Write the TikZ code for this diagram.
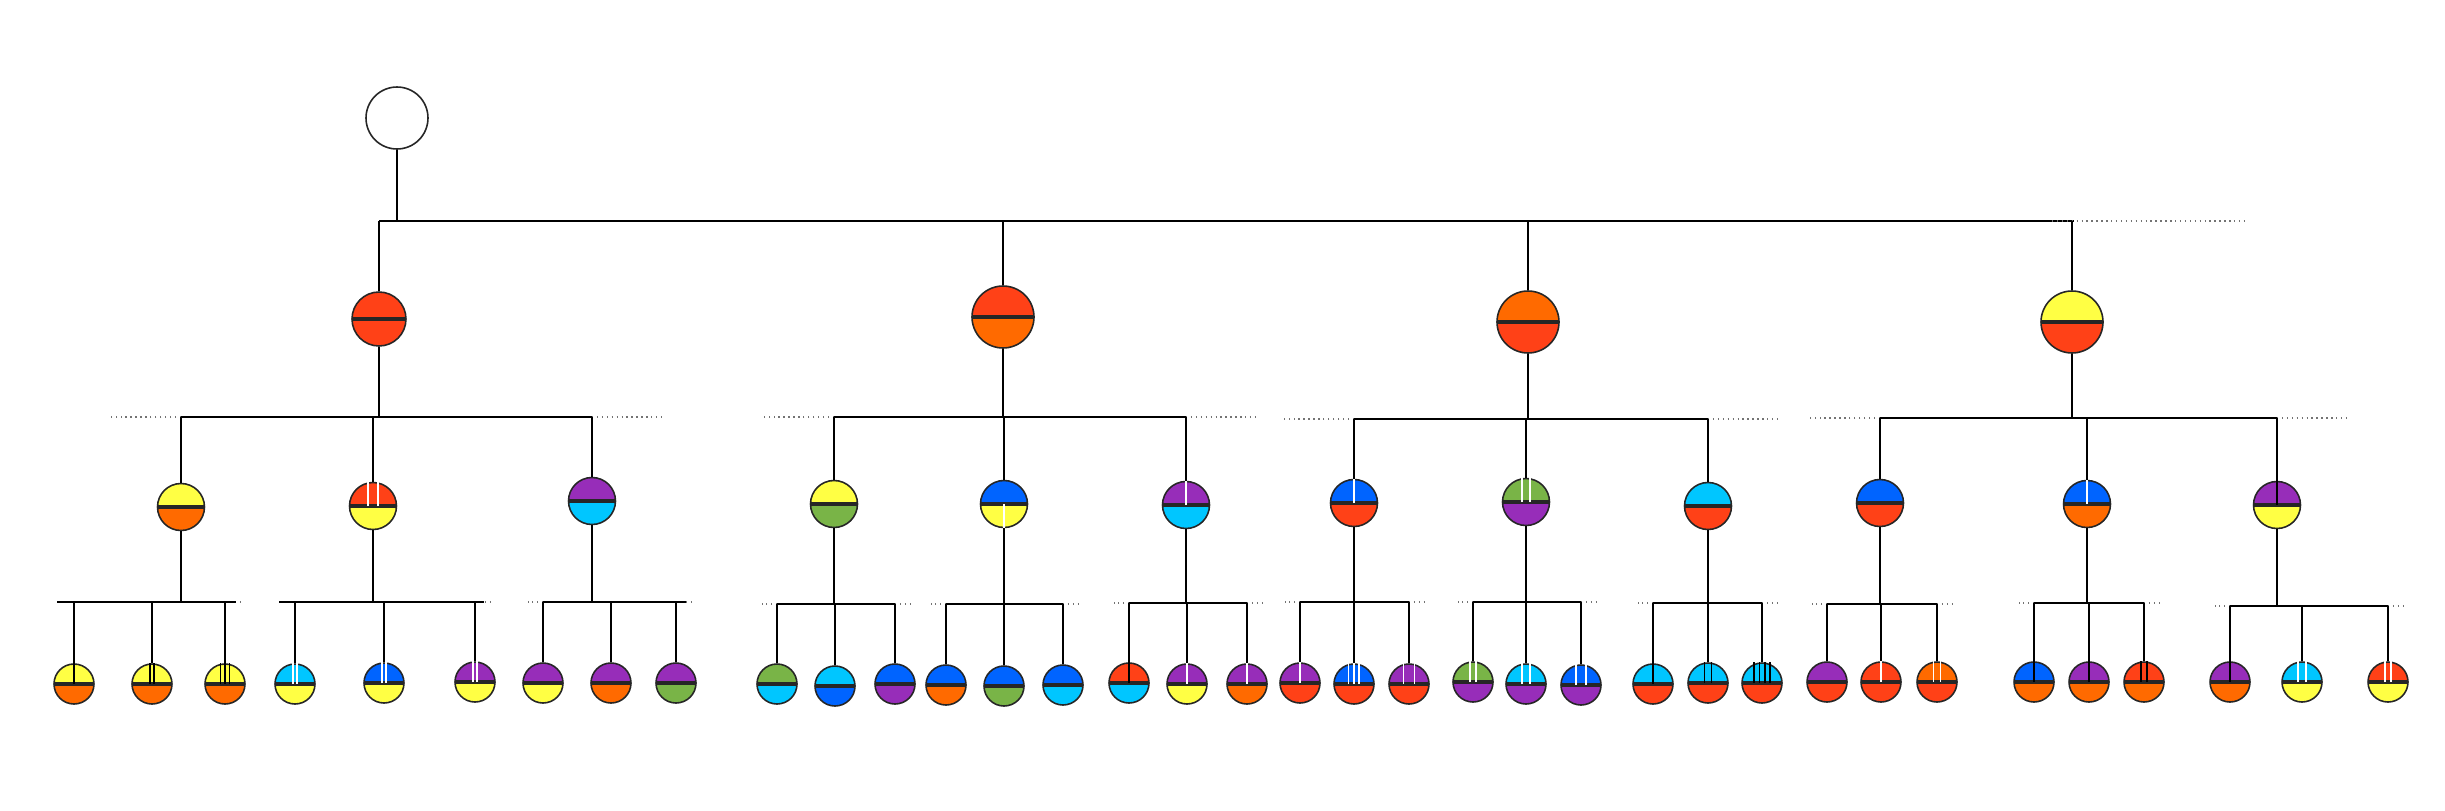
\documentclass[tikz,border=0pt]{standalone}

\definecolor{cRed}{HTML}{FF4117}
\definecolor{cOrange}{HTML}{FF6A00}
\definecolor{cYellow}{HTML}{FFFF44}
\definecolor{cPurple}{HTML}{972DB9}
\definecolor{cCyan}{HTML}{00C6FF}
\definecolor{cBlue}{HTML}{0064FF}
\definecolor{cGreen}{HTML}{79B447}

% short strokes in the upper half of a node
\newcommand\nodeticks[3]{\foreach \d in {#3} \draw[#2, line width=0.45pt] ([shift={(\d,0)}]#1.center) -- ([shift={(\d,0)}]#1.north);}
% parent, bar, first child, last child, stub length
\newcommand\branch[5]{%
  \draw[link] (#1) -- (#1 |- #2);
  \draw[link] (#3 |- #2) -- (#4 |- #2);
  \draw[stub] (#3 |- #2) -- ++(-#5,0);
  \draw[stub] (#4 |- #2) -- ++(#5,0);}

\begin{document}
\begin{tikzpicture}[x=0.1mm, y=-0.1mm,
            node/.style={circle, draw=black!85, line width=0.45pt, inner sep=0pt},
            half/.style 2 args={node, path picture={
                \fill[#1] (path picture bounding box.north west) rectangle (path picture bounding box.east);
                \fill[#2] (path picture bounding box.west) rectangle (path picture bounding box.south east);
                \draw[line width=0.9pt] (path picture bounding box.west) -- (path picture bounding box.east);}},
            top/.style={minimum size=6.2mm},
            mid/.style={minimum size=4.7mm},
            leaf/.style={minimum size=4mm},
            link/.style={line width=0.55pt},
            stub/.style={densely dotted, line width=0.4pt, black!55}]

            \useasboundingbox (0,0) rectangle (2445,810);

            \node[node, top, fill=white] (R) at (397,118) {};

            \node[half={cRed}{cRed}, minimum size=5.4mm] (A) at (379,319) {};
            \node[half={cRed}{cOrange}, top] (B) at (1003,317) {};
            \node[half={cOrange}{cRed}, top] (C) at (1528,322) {};
            \node[half={cYellow}{cRed}, top] (D) at (2072,322) {};

            \node[half={cYellow}{cOrange}, mid] (A1) at (181,507) {};
            \node[half={cRed}{cYellow}, mid] (A2) at (373,506) {};
            \node[half={cPurple}{cCyan}, mid] (A3) at (592,501) {};
            \node[half={cYellow}{cGreen}, mid] (B1) at (834,504) {};
            \node[half={cBlue}{cYellow}, mid] (B2) at (1004,504) {};
            \node[half={cPurple}{cCyan}, mid] (B3) at (1186,505) {};
            \node[half={cBlue}{cRed}, mid] (C1) at (1354,503) {};
            \node[half={cGreen}{cPurple}, mid] (C2) at (1526,502) {};
            \node[half={cCyan}{cRed}, mid] (C3) at (1708,506) {};
            \node[half={cBlue}{cRed}, mid] (D1) at (1880,503) {};
            \node[half={cBlue}{cOrange}, mid] (D2) at (2087,504) {};
            \node[half={cPurple}{cYellow}, mid] (D3) at (2277,505) {};

            \node[half={cYellow}{cOrange}, leaf] (A11) at (74,684) {};
            \node[half={cYellow}{cOrange}, leaf] (A12) at (152,684) {};
            \node[half={cYellow}{cOrange}, leaf] (A13) at (225,684) {};
            \node[half={cCyan}{cYellow}, leaf] (A21) at (295,684) {};
            \node[half={cBlue}{cYellow}, leaf] (A22) at (384,683) {};
            \node[half={cPurple}{cYellow}, leaf] (A23) at (475,682) {};
            \node[half={cPurple}{cYellow}, leaf] (A31) at (543,683) {};
            \node[half={cPurple}{cOrange}, leaf] (A32) at (611,683) {};
            \node[half={cPurple}{cGreen}, leaf] (A33) at (676,683) {};

            \node[half={cGreen}{cCyan}, leaf] (B11) at (777,684) {};
            \node[half={cCyan}{cBlue}, leaf] (B12) at (835,686) {};
            \node[half={cBlue}{cPurple}, leaf] (B13) at (895,684) {};
            \node[half={cBlue}{cOrange}, leaf] (B21) at (946,685) {};
            \node[half={cBlue}{cGreen}, leaf] (B22) at (1004,686) {};
            \node[half={cBlue}{cCyan}, leaf] (B23) at (1063,685) {};
            \node[half={cRed}{cCyan}, leaf] (B31) at (1129,683) {};
            \node[half={cPurple}{cYellow}, leaf] (B32) at (1187,684) {};
            \node[half={cPurple}{cOrange}, leaf] (B33) at (1247,684) {};

            \node[half={cPurple}{cRed}, leaf] (C11) at (1300,683) {};
            \node[half={cBlue}{cRed}, leaf] (C12) at (1354,684) {};
            \node[half={cPurple}{cRed}, leaf] (C13) at (1409,684) {};
            \node[half={cGreen}{cPurple}, leaf] (C21) at (1473,682) {};
            \node[half={cCyan}{cPurple}, leaf] (C22) at (1526,684) {};
            \node[half={cBlue}{cPurple}, leaf] (C23) at (1581,685) {};
            \node[half={cCyan}{cRed}, leaf] (C31) at (1653,684) {};
            \node[half={cCyan}{cRed}, leaf] (C32) at (1708,683) {};
            \node[half={cCyan}{cRed}, leaf] (C33) at (1762,683) {};

            \node[half={cPurple}{cRed}, leaf] (D11) at (1827,682) {};
            \node[half={cRed}{cRed}, leaf] (D12) at (1881,682) {};
            \node[half={cOrange}{cRed}, leaf] (D13) at (1937,682) {};
            \node[half={cBlue}{cOrange}, leaf] (D21) at (2034,682) {};
            \node[half={cPurple}{cOrange}, leaf] (D22) at (2089,682) {};
            \node[half={cRed}{cOrange}, leaf] (D23) at (2144,682) {};
            \node[half={cPurple}{cOrange}, leaf] (D31) at (2230,682) {};
            \node[half={cCyan}{cYellow}, leaf] (D32) at (2302,682) {};
            \node[half={cRed}{cYellow}, leaf] (D33) at (2388,682) {};

            % bars
            \coordinate (jR) at (0,221);
            \coordinate (jA) at (0,417);
            \coordinate (jB) at (0,417);
            \coordinate (jC) at (0,419);
            \coordinate (jD) at (0,418);
            \coordinate (jA1) at (0,602);
            \coordinate (jA2) at (0,602);
            \coordinate (jA3) at (0,602);
            \coordinate (jB1) at (0,604);
            \coordinate (jB2) at (0,604);
            \coordinate (jB3) at (0,603);
            \coordinate (jC1) at (0,602);
            \coordinate (jC2) at (0,602);
            \coordinate (jC3) at (0,603);
            \coordinate (jD1) at (0,604);
            \coordinate (jD2) at (0,603);
            \coordinate (jD3) at (0,606);

            \draw[link] (R) -- (R |- jR);
            \draw[link] (A |- jR) -- ([xshift=0.2mm]D |- jR);
            \draw[stub] ([xshift=-2mm]D |- jR) -- ++(193,0);
            \foreach \c in {A,B,C,D} \draw[link] (\c |- jR) -- (\c);

            \branch{A}{jA}{A1}{A3}{70}
            \branch{B}{jB}{B1}{B3}{70}
            \branch{C}{jC}{C1}{C3}{70}
            \branch{D}{jD}{D1}{D3}{70}
            \foreach \c in {A1,A2,A3} \draw[link] (\c |- jA) -- (\c);
            \foreach \c in {B1,B2,B3} \draw[link] (\c |- jB) -- (\c);
            \foreach \c in {C1,C2,C3} \draw[link] (\c |- jC) -- (\c);
            \foreach \c in {D1,D2,D3} \draw[link] (\c |- jD) -- (\c);

            \foreach \p in {A,B,C,D} {
                \foreach \k in {1,2,3} {
                    \branch{\p\k}{j\p\k}{\p\k1}{\p\k3}{15}
                    \foreach \c in {1,2,3} \draw[link] (\p\k\c |- j\p\k) -- (\p\k\c);
                }
            }
            % first group sits on longer bars
            \draw[link] ([xshift=-1.7mm]A11 |- jA1) -- ([xshift=1.1mm]A13 |- jA1);
            \draw[link] ([xshift=-1.6mm]A21 |- jA2) -- ([xshift=0.9mm]A23 |- jA2);
            \draw[link] (A31 |- jA3) -- ([xshift=1mm]A33 |- jA3);

            % strokes
            \nodeticks{A2}{white}{-5,5}
            \draw[white, line width=0.45pt] (B2.center) -- (B2.south);
            \nodeticks{B3}{white}{0}
            \nodeticks{C1}{white}{0}
            \nodeticks{C2}{white}{-4,4}
            \nodeticks{D2}{white}{0}
            \nodeticks{D3}{black}{0}

            \nodeticks{A11}{black}{0}
            \nodeticks{A12}{black}{-1.8,1.8}
            \nodeticks{A13}{black}{-4.5,0,4.5}
            \nodeticks{A21}{white}{-2,2}
            \nodeticks{A22}{white}{-2,2}
            \nodeticks{A23}{white}{-2,2}
            \nodeticks{B31}{black}{0}
            \nodeticks{B32}{white}{0}
            \nodeticks{B33}{white}{0}
            \nodeticks{C11}{white}{0}
            \nodeticks{C12}{white}{-5.5,0,5}
            \nodeticks{C13}{white}{-5.5,5.5}
            \nodeticks{C21}{white}{-2.8,2.8}
            \nodeticks{C22}{white}{-4,4}
            \nodeticks{C23}{white}{-5,5}
            \nodeticks{C31}{black}{0}
            \nodeticks{C32}{black}{-3.5,3.5}
            \nodeticks{C33}{black}{-8,-2.7,2.7,8}
            \nodeticks{D12}{white}{0}
            \nodeticks{D13}{white}{-3.5,3.5}
            \nodeticks{D21}{black}{0}
            \nodeticks{D22}{black}{0}
            \nodeticks{D23}{black}{-3,3}
            \nodeticks{D31}{black}{0}
            \nodeticks{D32}{white}{-4,4}
            \nodeticks{D33}{white}{-3,3}

\end{tikzpicture}
\end{document}
